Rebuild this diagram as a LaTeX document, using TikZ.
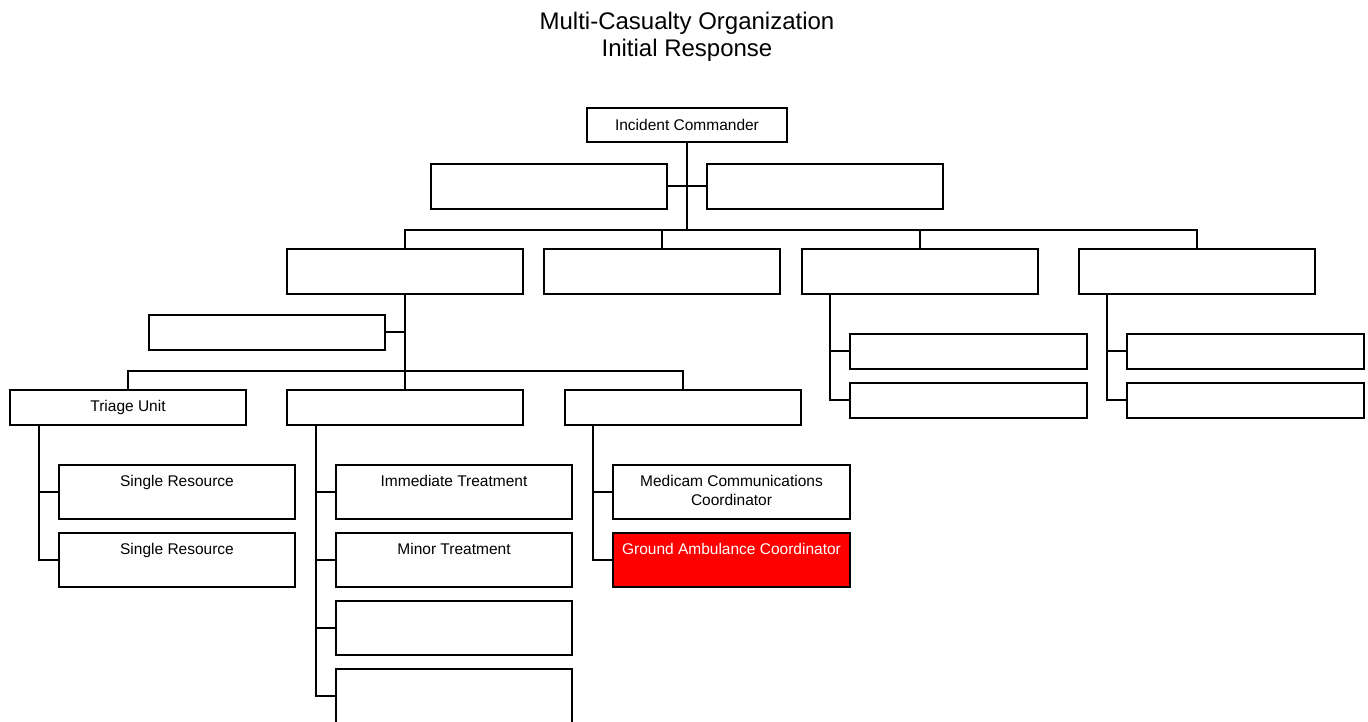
\documentclass[tikz,border=0pt]{standalone}
\usepackage{fontspec}
\setmainfont{Liberation Sans}
\begin{document}
\begin{tikzpicture}[x=1pt,y=-1pt,
  box/.style={draw=black,line width=1.8pt,fill=white,minimum width=236pt,inner sep=0pt,outer sep=0pt,
    font=\fontsize{15.5}{19}\selectfont},
  boxA/.style={box,minimum height=34pt},
  boxB/.style={box,minimum height=45pt},
  boxC/.style={box,minimum height=35pt},
  boxD/.style={box,minimum height=54pt},
  redbox/.style={boxD,fill=red},
  lbl/.style={inner sep=0pt,align=center,anchor=north,font=\fontsize{15.5}{19}\selectfont},
  ttl/.style={inner sep=0pt,anchor=base,font=\fontsize{24}{27}\selectfont},
  conn/.style={line width=1.8pt,draw=black}
]
\path[use as bounding box] (0,0) rectangle (1368,721);
\clip (0,0) rectangle (1368,721);

% title
\node[ttl] (title1) at (687,29.5) {Multi-Casualty Organization};
\node[ttl] (title2) at (687,56.5) {Initial Response};

% level 1
\node[boxA,minimum width=200pt] (ic) at (687,125) {Incident Commander};
% staff
\node[boxB] (s1) at (549,186.5) {};
\node[boxB] (s2) at (825,186.5) {};
% level 2
\node[boxB] (g1) at (405,271.5) {};
\node[boxB] (g2) at (662,271.5) {};
\node[boxB] (g3) at (920,271.5) {};
\node[boxB] (g4) at (1197,271.5) {};
% side box of g1
\node[boxC] (side) at (267,332.5) {};
% level 3
\node[boxC] (u1) at (128,407.5) {Triage Unit};
\node[boxC] (u2) at (405,407.5) {};
\node[boxC] (u3) at (683,407.5) {};
% triage children
\node[boxD] (t1) at (177,492) {};
\node[boxD] (t2) at (177,560) {};
\node[lbl] (t1t) at ([yshift=-10]t1.north) {Single Resource};
\node[lbl] (t2t) at ([yshift=-10]t2.north) {Single Resource};
% treatment children
\node[boxD] (m1) at (454,492) {};
\node[boxD] (m2) at (454,560) {};
\node[boxD] (m3) at (454,628) {};
\node[boxD] (m4) at (454,696) {};
\node[lbl] (m1t) at ([yshift=-10]m1.north) {Immediate Treatment};
\node[lbl] (m2t) at ([yshift=-10]m2.north) {Minor Treatment};
% transport children
\node[boxD,minimum width=237pt] (c1) at (731.5,492) {};
\node[redbox,minimum width=237pt] (c2) at (731.5,560) {};
\node[lbl] (c1t) at ([yshift=-10]c1.north) {Medicam Communications\\Coordinator};
\node[lbl,text=white] (c2t) at ([yshift=-10]c2.north) {Ground Ambulance Coordinator};
% g3 / g4 children
\node[boxC,minimum width=237pt] (l1) at (968.5,351.5) {};
\node[boxC,minimum width=237pt] (l2) at (968.5,400.5) {};
\node[boxC,minimum width=237pt] (r1) at (1245.5,351.5) {};
\node[boxC,minimum width=237pt] (r2) at (1245.5,400.5) {};

% connectors
\coordinate (bus1) at (687,230);
\coordinate (bus3) at (405,371);
\draw[conn] (ic.south) -- (bus1);
\draw[conn] ([yshift=0.5]s1.east) -- ([yshift=0.5]s2.west);
\draw[conn] (g1.north) |- (bus1) -| (g4.north);
\draw[conn] (g2.north) -- (g2.north |- bus1);
\draw[conn] (g3.north) -- (g3.north |- bus1);
\draw[conn] (g1.south) -- (bus3);
\draw[conn] ([yshift=0.5]side.east) -- ([yshift=0.5]side.east -| g1.south);
\draw[conn] (u1.north) |- (bus3) -| (u3.north);
\draw[conn] (u2.north) -- (bus3);

\draw[conn] ([xshift=-89]u1.south) |- (t2.west);
\draw[conn] (t1.west) -- ++(-20,0);

\draw[conn] ([xshift=-89]u2.south) |- (m4.west);
\draw[conn] (m1.west) -- ++(-20,0);
\draw[conn] (m2.west) -- ++(-20,0);
\draw[conn] (m3.west) -- ++(-20,0);

\draw[conn] ([xshift=-90]u3.south) |- (c2.west);
\draw[conn] (c1.west) -- ++(-20,0);

\draw[conn] ([xshift=-90]g3.south) |- ([yshift=0.5]l2.west);
\draw[conn] ([yshift=0.5]l1.west) -- ++(-20,0);

\draw[conn] ([xshift=-90]g4.south) |- ([yshift=0.5]r2.west);
\draw[conn] ([yshift=0.5]r1.west) -- ++(-20,0);
\end{tikzpicture}
\end{document}
